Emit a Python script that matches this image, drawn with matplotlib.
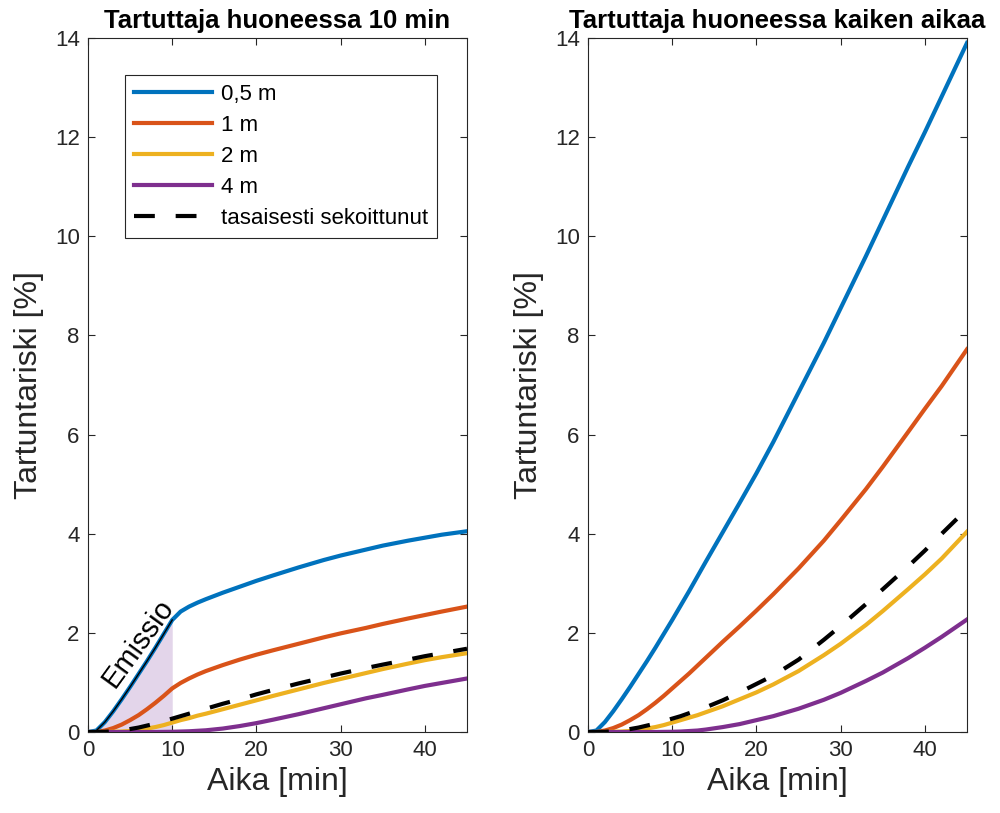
import matplotlib
matplotlib.use("Agg")
import matplotlib.pyplot as plt

plt.rcParams['font.family'] = ['Liberation Sans', 'DejaVu Sans']

# Time points [min]
aika = [0, 1, 2, 3, 4, 5, 6, 7, 8, 9, 10, 11, 12, 13, 14, 16, 18, 20, 22,
        25, 28, 30, 33, 35, 38, 40, 42, 45]

# Infected person in the room for 10 min: infection risk [%]
risk10_05m = [0, 0.03, 0.20, 0.42, 0.66, 0.91, 1.17, 1.43, 1.70, 1.98, 2.26,
              2.43, 2.53, 2.61, 2.68, 2.81, 2.93, 3.05, 3.16, 3.32, 3.47, 3.56,
              3.68, 3.76, 3.86, 3.92, 3.98, 4.05]
risk10_1m = [0, 0, 0.03, 0.08, 0.15, 0.24, 0.34, 0.46, 0.59, 0.73, 0.88,
             0.99, 1.08, 1.16, 1.23, 1.35, 1.46, 1.56, 1.65, 1.78, 1.91, 1.99,
             2.10, 2.18, 2.29, 2.36, 2.43, 2.53]
risk10_2m = [0, 0, 0, 0.005, 0.01, 0.02, 0.04, 0.07, 0.10, 0.14, 0.19,
             0.24, 0.28, 0.33, 0.37, 0.46, 0.55, 0.64, 0.73, 0.86, 0.99, 1.07,
             1.19, 1.27, 1.38, 1.45, 1.51, 1.59]
risk10_4m = [0, 0, 0, 0, 0, 0, 0, 0, 0, 0.003, 0.005,
             0.01, 0.015, 0.025, 0.035, 0.07, 0.12, 0.18, 0.25, 0.36, 0.48, 0.56,
             0.68, 0.75, 0.86, 0.93, 0.99, 1.08]
risk10_mixed = [0, 0, 0.005, 0.015, 0.03, 0.06, 0.09, 0.13, 0.17, 0.22, 0.27,
                0.32, 0.37, 0.42, 0.47, 0.57, 0.66, 0.76, 0.85, 0.98, 1.10, 1.18,
                1.29, 1.36, 1.46, 1.53, 1.59, 1.68]

# Infected person in the room the whole time: infection risk [%]
riskall_05m = [0, 0.03, 0.20, 0.42, 0.66, 0.91, 1.17, 1.43, 1.70, 1.98, 2.26,
               2.55, 2.84, 3.14, 3.44, 4.03, 4.62, 5.22, 5.85, 6.85, 7.85, 8.55,
               9.60, 10.32, 11.40, 12.10, 12.82, 13.90]
riskall_1m = [0, 0, 0.03, 0.08, 0.15, 0.24, 0.34, 0.46, 0.59, 0.73, 0.88,
              1.03, 1.18, 1.34, 1.50, 1.82, 2.13, 2.45, 2.78, 3.30, 3.86, 4.27,
              4.90, 5.35, 6.05, 6.52, 6.98, 7.72]
riskall_2m = [0, 0, 0, 0.005, 0.01, 0.02, 0.04, 0.07, 0.10, 0.14, 0.19,
              0.24, 0.29, 0.34, 0.40, 0.52, 0.66, 0.80, 0.96, 1.23, 1.55, 1.78,
              2.16, 2.44, 2.88, 3.18, 3.50, 4.04]
riskall_4m = [0, 0, 0, 0, 0, 0, 0, 0, 0, 0.003, 0.005,
              0.01, 0.02, 0.03, 0.05, 0.10, 0.16, 0.24, 0.32, 0.47, 0.65, 0.79,
              1.03, 1.20, 1.49, 1.70, 1.92, 2.27]
riskall_mixed = [0, 0, 0.005, 0.015, 0.03, 0.06, 0.09, 0.13, 0.17, 0.22, 0.27,
                 0.32, 0.38, 0.44, 0.50, 0.64, 0.80, 0.97, 1.14, 1.46, 1.86, 2.14,
                 2.58, 2.88, 3.34, 3.66, 4.00, 4.50]

emission_end = 10  # minutes the infected person spends in the room (left panel)

labels = ['0,5 m', '1 m', '2 m', '4 m', 'tasaisesti sekoittunut']
colors = ['#0072BD', '#D95319', '#EDB120', '#7E2F8E', 'black']
titles = ['Tartuttaja huoneessa 10 min', 'Tartuttaja huoneessa kaiken aikaa']
xticks = [0, 10, 20, 30, 40]
yticks = [0, 2, 4, 6, 8, 10, 12, 14]

panels = [
    [risk10_05m, risk10_1m, risk10_2m, risk10_4m, risk10_mixed],
    [riskall_05m, riskall_1m, riskall_2m, riskall_4m, riskall_mixed],
]

fig = plt.figure(figsize=(10.0, 8.13), dpi=100)
axes = [fig.add_axes([0.088, 0.0996, 0.379, 0.8537]),
        fig.add_axes([0.588, 0.0996, 0.379, 0.8537])]

axcol = '#262626'
for k, (ax, series) in enumerate(zip(axes, panels)):
    if k == 0:
        n = aika.index(emission_end) + 1
        ax.fill_between(aika[:n], 0, series[0][:n], color='#e3d5ea',
                        linewidth=0, zorder=1)
    handles = []
    for i, (vals, lab, col) in enumerate(zip(series, labels, colors)):
        if i == 4:
            h, = ax.plot(aika, vals, color=col, lw=3.0, dashes=(5, 5),
                         label=lab, zorder=4, dash_capstyle='butt')
        else:
            h, = ax.plot(aika, vals, color=col, lw=3.0, label=lab, zorder=3)
        handles.append(h)
    if k == 0:
        n = aika.index(emission_end) + 1
        ax.plot(aika[:n], series[0][:n], color='black', lw=1.0, zorder=5)
        ax.text(5.9, 1.8, 'Emissio', rotation=54, fontsize=21,
                ha='center', va='center', rotation_mode='anchor', zorder=6)
        leg = ax.legend(handles=handles, loc='upper left',
                        bbox_to_anchor=(0.098, 0.947), fontsize=16,
                        handlelength=3.5, handletextpad=0.4,
                        labelspacing=0.45, borderpad=0.4,
                        frameon=True, fancybox=False, framealpha=1,
                        edgecolor=axcol, borderaxespad=0)
        leg.get_frame().set_linewidth(0.8)

    ax.set_xlim(0, 45)
    ax.set_ylim(0, 14)
    ax.set_xticks(xticks)
    ax.set_yticks(yticks)
    ax.tick_params(direction='in', length=5, width=0.8, colors=axcol,
                   labelsize=16, top=True, right=True, pad=6)
    for sp in ax.spines.values():
        sp.set_color(axcol)
        sp.set_linewidth(0.8)
    ax.set_title(titles[k], fontsize=18.5, fontweight='bold', pad=7)
    ax.set_xlabel('Aika [min]', fontsize=23, color=axcol, labelpad=4)
    ax.set_ylabel('Tartuntariski [%]', fontsize=23, color=axcol, labelpad=8)

fig.savefig('out.png', dpi=100)
